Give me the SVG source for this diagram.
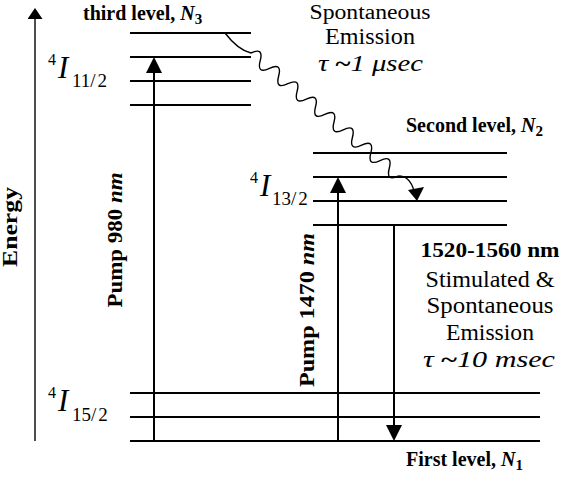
<svg xmlns="http://www.w3.org/2000/svg" width="561" height="483" viewBox="0 0 561 483">
<style>
.lvl{stroke:#000;stroke-width:2;fill:none}
.arr{stroke:#000;stroke-width:2;fill:none}
.ax{stroke:#000;stroke-width:1.4;fill:none}
.t{font-family:"Liberation Serif","Times New Roman",serif;fill:#000}
.b{font-weight:bold}
.i{font-style:italic}
</style>
<defs>
<marker id="ah" markerUnits="userSpaceOnUse" markerWidth="16" markerHeight="16" refX="0" refY="8" orient="auto" viewBox="0 0 16 16">
<path d="M0,0 L16,8 L0,16 z" fill="#000"/>
</marker>
<marker id="ahs" markerUnits="userSpaceOnUse" markerWidth="11" markerHeight="15" refX="0" refY="7.5" orient="auto" viewBox="0 0 11 15">
<path d="M0,0 L11,7.5 L0,15 z" fill="#000"/>
</marker>
</defs>

<g id="axis">
<line class="ax" x1="35" y1="441" x2="35" y2="19" marker-end="url(#ahs)"/>
<text class="t b" transform="translate(16.5,227) rotate(-90)" font-size="20" text-anchor="middle" textLength="80" lengthAdjust="spacingAndGlyphs">Energy</text>
</g>

<g id="level3">
<line class="lvl" x1="130" y1="33" x2="251" y2="33"/>
<line class="lvl" x1="130" y1="57" x2="251" y2="57"/>
<line class="lvl" x1="130" y1="81" x2="251" y2="81"/>
<line class="lvl" x1="130" y1="105" x2="251" y2="105"/>
<text class="t b" x="83" y="20" font-size="20">third level, <tspan class="i">N</tspan><tspan font-size="15" dy="4">3</tspan></text>
<text class="t" x="48" y="65" font-size="16">4</text>
<text class="t i" x="58" y="78" font-size="31">I</text>
<text class="t" x="72" y="87" font-size="19">11/<tspan dx="2">2</tspan></text>
</g>

<g id="level2">
<line class="lvl" x1="313" y1="153" x2="507" y2="153"/>
<line class="lvl" x1="313" y1="177" x2="507" y2="177"/>
<line class="lvl" x1="313" y1="201" x2="507" y2="201"/>
<line class="lvl" x1="313" y1="225" x2="507" y2="225"/>
<text class="t b" x="406" y="132" font-size="20">Second level, <tspan class="i">N</tspan><tspan font-size="15" dy="4">2</tspan></text>
<text class="t" x="250" y="183" font-size="16">4</text>
<text class="t i" x="260" y="196" font-size="31">I</text>
<text class="t" x="272" y="205" font-size="19">13/<tspan dx="2">2</tspan></text>
</g>

<g id="level1">
<line class="lvl" x1="130" y1="393" x2="540" y2="393"/>
<line class="lvl" x1="130" y1="417" x2="540" y2="417"/>
<line class="lvl" x1="130" y1="441" x2="540" y2="441"/>
<text class="t b" x="406" y="466" font-size="20">First level, <tspan class="i">N</tspan><tspan font-size="15" dy="4">1</tspan></text>
<text class="t" x="48" y="398" font-size="16">4</text>
<text class="t i" x="58" y="411" font-size="31">I</text>
<text class="t" x="72" y="421" font-size="19">15/<tspan dx="2">2</tspan></text>
</g>

<g id="spont-label">
<text class="t" x="370" y="18.5" font-size="20.5" text-anchor="middle" textLength="121" lengthAdjust="spacingAndGlyphs">Spontaneous</text>
<text class="t" x="370" y="44" font-size="23" text-anchor="middle" textLength="90" lengthAdjust="spacingAndGlyphs">Emission</text>
<text class="t" x="318" y="71" font-size="23" textLength="105" lengthAdjust="spacingAndGlyphs"><tspan class="i">τ</tspan><tspan class="b"> ~</tspan><tspan class="i">1 μsec</tspan></text>
</g>

<g id="emission-label">
<text class="t b" x="490" y="257" font-size="22" text-anchor="middle" textLength="139" lengthAdjust="spacingAndGlyphs">1520-1560 nm</text>
<text class="t" x="490" y="287" font-size="23" text-anchor="middle" textLength="129" lengthAdjust="spacingAndGlyphs">Stimulated &amp;</text>
<text class="t" x="490" y="313" font-size="23" text-anchor="middle" textLength="127" lengthAdjust="spacingAndGlyphs">Spontaneous</text>
<text class="t" x="490" y="340" font-size="23" text-anchor="middle" textLength="88" lengthAdjust="spacingAndGlyphs">Emission</text>
<text class="t" x="423" y="367" font-size="23" textLength="132" lengthAdjust="spacingAndGlyphs"><tspan class="i">τ</tspan><tspan class="b"> ~</tspan><tspan class="i">10  msec</tspan></text>
</g>

<g id="pumps">
<text class="t b" transform="translate(122,240) rotate(-90)" font-size="21" text-anchor="middle" textLength="135" lengthAdjust="spacingAndGlyphs">Pump 980 <tspan class="i">nm</tspan></text>
<text class="t b" transform="translate(314,310) rotate(-90)" font-size="21" text-anchor="middle" textLength="154" lengthAdjust="spacingAndGlyphs">Pump 1470 <tspan class="i">nm</tspan></text>
</g>

<g id="connectors">
<line class="arr" x1="154" y1="441" x2="154" y2="73" marker-end="url(#ah)"/>
<line class="arr" x1="338" y1="441" x2="338" y2="193" marker-end="url(#ah)"/>
<line class="arr" x1="394" y1="225" x2="394" y2="425" marker-end="url(#ah)"/>
<path class="ax" d="M225,33 Q238,50 251,53"/>
<g transform="translate(251,53) rotate(39.8)">
<path class="ax" d="M0,0 q6,-13 12,0 t12,0 t12,0 t12,0 t12,0 t12,0 t12,0 t12,0 t12,0 t12,0 t12,0 t12,0 t12,0 t12,0 t12,0 t12,0"/>
</g>
<path class="ax" d="M398.5,175.9 Q410,176 414,191"/>
<path d="M408,190 L424,187 L417,201 z" fill="#000"/>
</g>
</svg>
